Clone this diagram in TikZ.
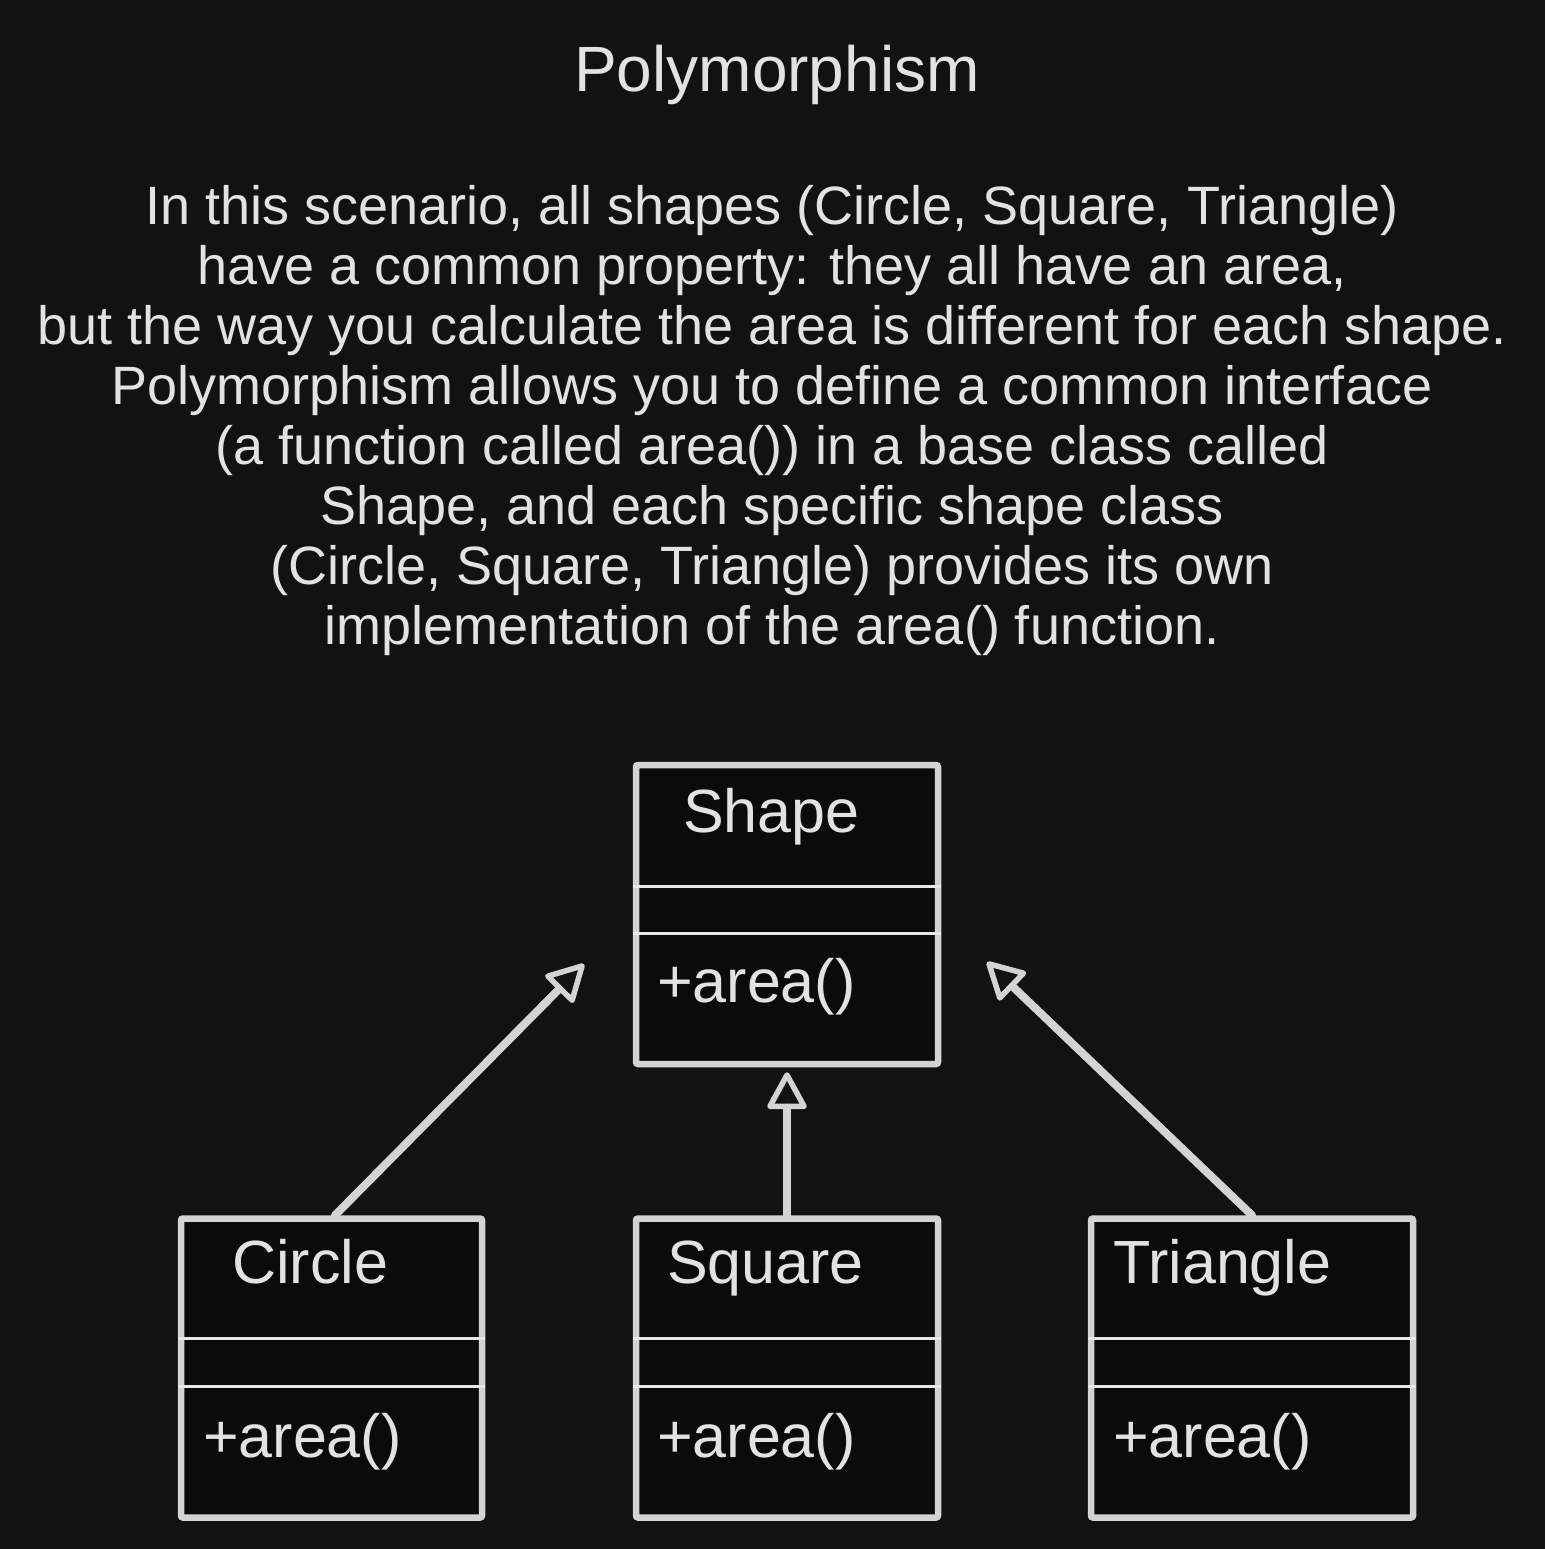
\documentclass[tikz,border=0pt]{standalone}
\usepackage{fontspec}
\setmainfont{Liberation Sans}
\usetikzlibrary{arrows.meta}
\definecolor{bg}{HTML}{121212}
\definecolor{stroke}{HTML}{D3D3D3}
\definecolor{ink}{HTML}{E2E2E2}
\definecolor{boxfill}{HTML}{0B0B0B}
\definecolor{divider}{HTML}{E8E8E8}
\begin{document}
\begin{tikzpicture}[x=1pt,y=-1pt,
  txt/.style={text=ink, inner sep=0pt},
  body/.style={txt, font=\fontsize{54}{60}\selectfont, anchor=base},
  titlefont/.style={txt, font=\fontsize{64}{76}\selectfont, anchor=base},
  cls/.style={draw=stroke, line width=6.5pt, fill=boxfill, rounded corners=2pt, minimum height=299pt, inner sep=0pt},
  lbl/.style={txt, font=\fontsize{61}{70}\selectfont, anchor=base west},
  div/.style={draw=divider, line width=3pt},
  inherit/.style={draw=stroke, line width=8pt, line cap=round, -{Triangle[open, round, length=40pt, width=42pt, line width=5.5pt]}}
]
\path[fill=bg] (0,0) rectangle (1545,1549);
\useasboundingbox (0,0) rectangle (1545,1549);

% title and description
\node[titlefont] (title) at (777,92) {Polymorphism};
\node[body] (l1) at (772,224) {In this scenario, all shapes (Circle, Square, Triangle)};
\node[body] (l2) at (772,284) {have a common property: they all have an area,};
\node[body] (l3) at (772,344) {but the way you calculate the area is different for each shape.};
\node[body] (l4) at (772,404) {Polymorphism allows you to define a common interface};
\node[body] (l5) at (772,464) {(a function called area()) in a base class called};
\node[body] (l6) at (772,524) {Shape, and each specific shape class};
\node[body] (l7) at (772,584) {(Circle, Square, Triangle) provides its own};
\node[body] (l8) at (772,644) {implementation of the area() function.};

% class boxes
\node[cls, minimum width=302pt] (shape) at (787,914.5) {};
\node[cls, minimum width=301pt] (circle) at (331.5,1368) {};
\node[cls, minimum width=302pt] (square) at (787,1368) {};
\node[cls, minimum width=322pt] (triangle) at (1252,1368) {};

% dividers
\draw[div] (633,886) -- (941,886);
\draw[div] (633,933) -- (941,933);
\draw[div] (178,1338) -- (485,1338);
\draw[div] (178,1386) -- (485,1386);
\draw[div] (633,1338) -- (941,1338);
\draw[div] (633,1386) -- (941,1386);
\draw[div] (1088,1338) -- (1416,1338);
\draw[div] (1088,1386) -- (1416,1386);

% labels
\node[lbl] (shapename) at (683,832) {Shape};
\node[lbl] (shapeop) at (657,1002) {+area()};
\node[lbl] (circlename) at (232,1283) {Circle};
\node[lbl] (circleop) at (203,1457) {+area()};
\node[lbl] (squarename) at (667,1283) {Square};
\node[lbl] (squareop) at (657,1457) {+area()};
\node[lbl] (trianglename) at (1113,1283) {Triangle};
\node[lbl] (triangleop) at (1113,1457) {+area()};

% inheritance arrows
\coordinate (ctip) at (584,964);
\coordinate (ttip) at (987,962);
\draw[inherit] ([xshift=3.5pt]circle.north) -- (ctip);
\draw[inherit] (square.north) -- ([yshift=-5pt]shape.south);
\draw[inherit] (triangle.north) -- (ttip);
\end{tikzpicture}
\end{document}
